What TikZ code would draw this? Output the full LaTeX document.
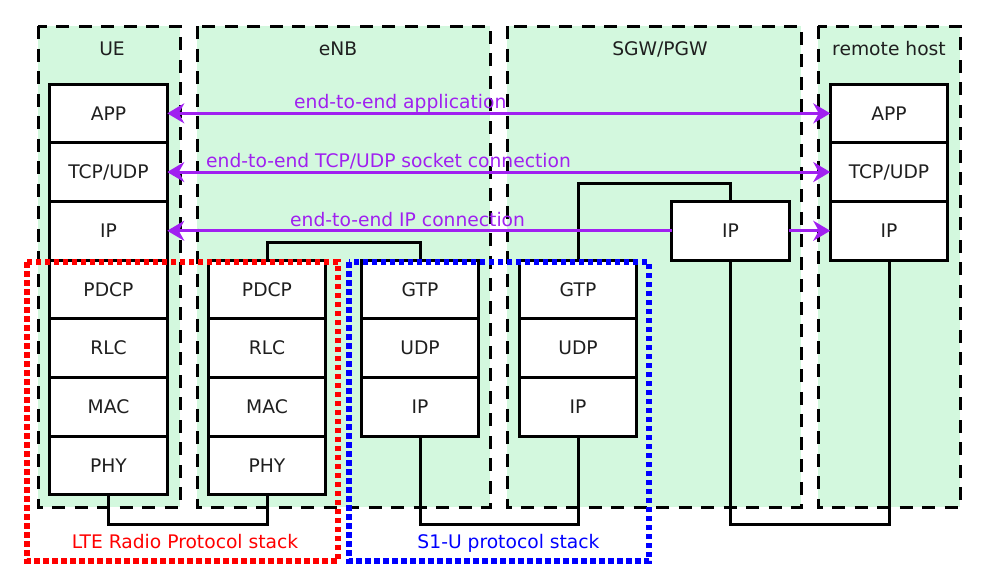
\documentclass[tikz,border=0pt]{standalone}
\usepackage{fontspec}
\setmainfont{DejaVu Sans}
\usetikzlibrary{arrows.meta}
\definecolor{panelgreen}{RGB}{211,248,222}
\definecolor{e2epurple}{RGB}{160,32,240}
\begin{document}
\begin{tikzpicture}[x=1pt,y=-1pt,
  panel/.style={fill=panelgreen, draw=black, line width=3pt, dash pattern=on 13pt off 9.5pt},
  layer/.style={draw=black, fill=white, line width=3pt, minimum width=117.5pt, minimum height=58.7pt,
    inner sep=0pt, outer sep=0pt, font=\fontsize{18.7}{22}\selectfont, text=black!88},
  title/.style={font=\fontsize{18.7}{22}\selectfont, anchor=base, inner sep=0pt, text=black!88},
  conn/.style={draw=black, line width=3pt},
  e2e/.style={draw=e2epurple, line width=3pt},
  tip/.style={-{Stealth[length=17pt,width=20pt,inset=5.5pt]}},
  tips/.style={{Stealth[length=17pt,width=20pt,inset=5.5pt]}-{Stealth[length=17pt,width=20pt,inset=5.5pt]}},
  e2elabel/.style={font=\fontsize{18.7}{22}\selectfont, text=e2epurple, anchor=base west, inner sep=0pt},
  stacklabel/.style={font=\fontsize{18.7}{22}\selectfont, anchor=base, inner sep=0pt},
  lteframe/.style={draw=red, line width=6.5pt, dash pattern=on 5.5pt off 3.5pt},
  s1uframe/.style={draw=blue, line width=6.5pt, dash pattern=on 5.5pt off 3.5pt}]
\useasboundingbox (0,0) rectangle (984,579);

% panels
\draw[panel] (38,26) rectangle (180,507);
\draw[panel] (197,26) rectangle (490,507);
\draw[panel] (507,26) rectangle (801,507);
\draw[panel] (818,26) rectangle (960,507);

\node[title] (tUE) at (112,55) {UE};
\node[title] (tENB) at (338,55) {eNB};
\node[title] (tSGW) at (660,55) {SGW/PGW};
\node[title] (tRH) at (889,55) {remote host};

% UE stack
\node[layer] (ueAPP) at (108.5,113.35) {APP};
\node[layer] (ueTCP) at (108.5,172.05) {TCP/UDP};
\node[layer] (ueIP) at (108.5,230.75) {IP};
\node[layer] (uePDCP) at (108.5,289.45) {PDCP};
\node[layer] (ueRLC) at (108.5,348.15) {RLC};
\node[layer] (ueMAC) at (108.5,406.85) {MAC};
\node[layer] (uePHY) at (108.5,465.55) {PHY};

% eNB radio stack
\node[layer] (enbPDCP) at (267,289.45) {PDCP};
\node[layer] (enbRLC) at (267,348.15) {RLC};
\node[layer] (enbMAC) at (267,406.85) {MAC};
\node[layer] (enbPHY) at (267,465.55) {PHY};

% eNB S1-U stack
\node[layer] (enbGTP) at (420,289.45) {GTP};
\node[layer] (enbUDP) at (420,348.15) {UDP};
\node[layer] (enbIP) at (420,406.85) {IP};

% SGW stack
\node[layer] (sgwGTP) at (578,289.45) {GTP};
\node[layer] (sgwUDP) at (578,348.15) {UDP};
\node[layer] (sgwIP) at (578,406.85) {IP};
\node[layer] (sgwIPb) at (730.5,230.75) {IP};

% remote host stack
\node[layer] (rhAPP) at (889,113.35) {APP};
\node[layer] (rhTCP) at (889,172.05) {TCP/UDP};
\node[layer] (rhIP) at (889,230.75) {IP};

% connectors
\draw[conn] (uePHY.south) -- ++(0,30) -| (enbPHY.south);
\draw[conn] (enbPDCP.north) -- ++(0,-17.5) -| (enbGTP.north);
\draw[conn] (enbIP.south) -- ++(0,88.5) -| (sgwIP.south);
\draw[conn] (sgwGTP.north) -- ++(0,-76.5) -| (sgwIPb.north);
\draw[conn] (sgwIPb.south) -- ++(0,264) -| (rhIP.south);

% end-to-end arrows
\draw[e2e,tips] (ueAPP.east) -- (rhAPP.west);
\draw[e2e,tips] (ueTCP.east) -- (rhTCP.west);
\draw[e2e,tip] (sgwIPb.west) -- (ueIP.east);
\draw[e2e,tip] (sgwIPb.east) -- (rhIP.west);

\node[e2elabel] (lApp) at (294,108.5) {end-to-end application};
\node[e2elabel] (lTcp) at (206,167) {end-to-end TCP/UDP socket connection};
\node[e2elabel] (lIp) at (290,226.5) {end-to-end IP connection};

% protocol stack frames
\draw[lteframe] (27,262) rectangle (338,561);
\draw[s1uframe] (349,262) rectangle (649,561);
\node[stacklabel, text=red] (lLte) at (185,548.5) {LTE Radio Protocol stack};
\node[stacklabel, text=blue] (lS1u) at (508.5,548.5) {S1-U protocol stack};
\end{tikzpicture}
\end{document}
